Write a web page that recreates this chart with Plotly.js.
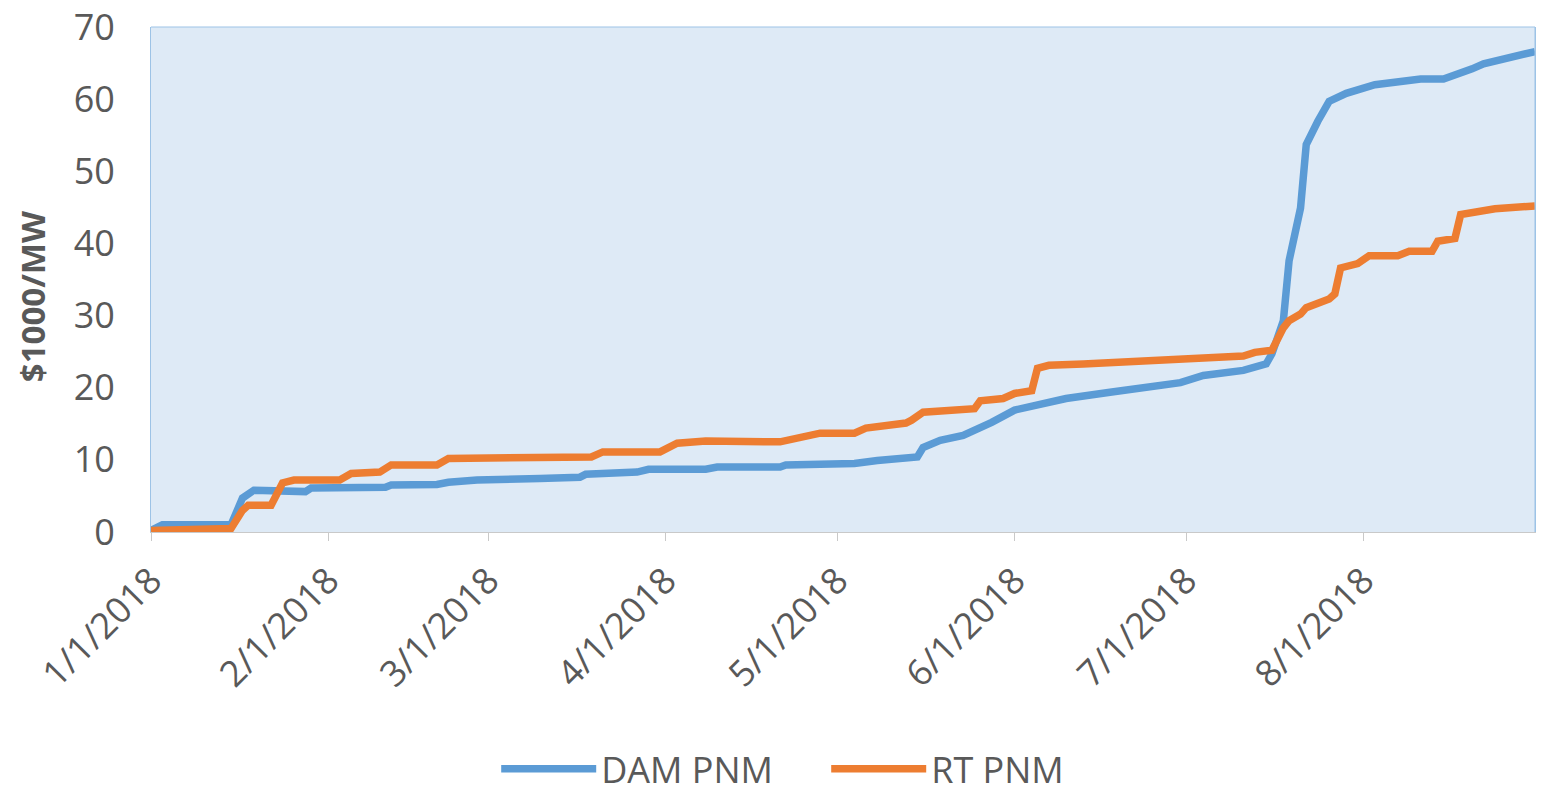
<!DOCTYPE html>
<html>
<head>
<meta charset="utf-8">
<script src="https://cdn.plot.ly/plotly-3.0.1.min.js"></script>
<style>
html,body{margin:0;padding:0;background:#fff;}
#chart{width:1541px;height:795px;}
</style>
</head>
<body>
<div id="chart"></div>
<script>
// DAM PNM cumulative ($1000/MW)
const damDates = ["2018-01-01","2018-01-03","2018-01-15","2018-01-17","2018-01-19","2018-01-28","2018-01-29","2018-02-11","2018-02-12","2018-02-20","2018-02-22","2018-02-27","2018-03-10","2018-03-17","2018-03-18","2018-03-27","2018-03-29","2018-04-08","2018-04-10","2018-04-21","2018-04-22","2018-05-01","2018-05-04","2018-05-08","2018-05-13","2018-05-15","2018-05-16","2018-05-19","2018-05-23","2018-05-26","2018-05-28","2018-06-01","2018-06-04","2018-06-10","2018-06-18","2018-06-24","2018-06-30","2018-07-04","2018-07-11","2018-07-15","2018-07-16","2018-07-18","2018-07-19","2018-07-21","2018-07-22","2018-07-24","2018-07-26","2018-07-29","2018-08-03","2018-08-11","2018-08-15","2018-08-20","2018-08-22","2018-08-31"];
const damValues = [0.2,1.0,1.0,4.7,5.8,5.6,6.1,6.2,6.5,6.6,6.9,7.2,7.4,7.6,8.0,8.3,8.7,8.7,9.0,9.0,9.3,9.3,9.5,9.9,10.2,10.4,11.7,12.7,13.4,14.4,15.2,16.9,17.5,18.5,19.4,20.0,20.7,21.7,22.4,23.3,24.7,29.3,37.6,44.9,53.7,56.9,59.7,60.8,62.0,62.8,62.8,64.2,64.9,66.6];

// RT PNM cumulative ($1000/MW)
const rtDates = ["2018-01-01","2018-01-15","2018-01-17","2018-01-18","2018-01-22","2018-01-24","2018-01-26","2018-02-03","2018-02-05","2018-02-10","2018-02-12","2018-02-20","2018-02-22","2018-03-10","2018-03-19","2018-03-21","2018-03-31","2018-04-03","2018-04-08","2018-04-21","2018-04-24","2018-04-28","2018-05-04","2018-05-06","2018-05-13","2018-05-14","2018-05-16","2018-05-25","2018-05-26","2018-05-30","2018-06-01","2018-06-04","2018-06-05","2018-06-07","2018-06-13","2018-06-24","2018-07-03","2018-07-11","2018-07-13","2018-07-16","2018-07-18","2018-07-19","2018-07-21","2018-07-22","2018-07-26","2018-07-27","2018-07-28","2018-07-31","2018-08-02","2018-08-07","2018-08-09","2018-08-13","2018-08-14","2018-08-17","2018-08-18","2018-08-21","2018-08-24","2018-08-31"];
const rtValues = [0.2,0.5,3.0,3.7,3.7,6.8,7.2,7.2,8.1,8.3,9.3,9.3,10.2,10.2,10.4,11.1,11.1,12.3,12.6,12.5,13.0,13.7,13.7,14.4,15.1,15.5,16.6,17.1,18.2,18.5,19.2,19.6,22.7,23.1,23.3,23.8,24.2,24.4,24.9,25.2,28.3,29.3,30.2,31.1,32.3,33.0,36.6,37.2,38.3,38.3,38.9,38.9,40.3,40.7,44.0,44.5,44.8,45.2];

const tickVals = ["2018-01-01","2018-02-01","2018-03-01","2018-04-01","2018-05-01","2018-06-01","2018-07-01","2018-08-01"];
const tickText = ["1/1/2018","2/1/2018","3/1/2018","4/1/2018","5/1/2018","6/1/2018","7/1/2018","8/1/2018"];
const seriesNames = ["DAM PNM","RT PNM"];
const yTitle = "$1000/MW";

const traces = [
  {x: damDates, y: damValues, name: seriesNames[0], type: "scatter", mode: "lines",
   line: {color: "#5b9bd5", width: 7.5, shape: "linear"}},
  {x: rtDates, y: rtValues, name: seriesNames[1], type: "scatter", mode: "lines",
   line: {color: "#ed7d31", width: 7.5, shape: "linear"}}
];

const layout = {
  width: 1541, height: 795,
  paper_bgcolor: "#ffffff",
  plot_bgcolor: "#deeaf6",
  font: {family: "Open Sans, sans-serif", color: "#595959"},
  margin: {l: 151, r: 6, t: 27, b: 263, autoexpand: false},
  showlegend: true,
  legend: {orientation: "h", xref: "container", yref: "container",
           x: 0.322, xanchor: "left", y: 0.033, yanchor: "middle",
           entrywidth: 220, entrywidthmode: "pixels",
           font: {size: 36, color: "#595959"}, itemwidth: 95, traceorder: "normal"},
  xaxis: {
    type: "date", range: ["2018-01-01", "2018-08-31"],
    tickmode: "array", tickvals: tickVals, ticktext: tickText,
    tickangle: -45, tickfont: {size: 36, color: "#595959"},
    showgrid: false, zeroline: false, automargin: false,
    showline: true, linecolor: "#c9c9c9", linewidth: 1, mirror: false,
    ticks: "outside", ticklen: 8, tickcolor: "#c9c9c9", ticklabelstandoff: 4
  },
  yaxis: {
    range: [0, 70], dtick: 10, tick0: 0, automargin: false,
    tickfont: {size: 36, color: "#595959"},
    showgrid: false, zeroline: false,
    showline: true, linecolor: "#9dc3e6", linewidth: 1, mirror: true,
    ticks: "", ticklabelstandoff: 28
  },
  annotations: [
    {text: "<b>" + yTitle + "</b>", xref: "paper", yref: "paper",
     x: -0.086, y: 0.467, xanchor: "center", yanchor: "middle",
     textangle: -90, showarrow: false, font: {size: 33, color: "#595959"}}
  ],
  shapes: [
    {type: "line", xref: "paper", yref: "paper", x0: 1, x1: 1, y0: 0, y1: 1,
     line: {color: "#9dc3e6", width: 1}},
    {type: "line", xref: "paper", yref: "paper", x0: 0, x1: 1, y0: 1, y1: 1,
     line: {color: "#9dc3e6", width: 1}}
  ]
};

Plotly.newPlot("chart", traces, layout, {displayModeBar: false, staticPlot: true});
</script>
</body>
</html>
